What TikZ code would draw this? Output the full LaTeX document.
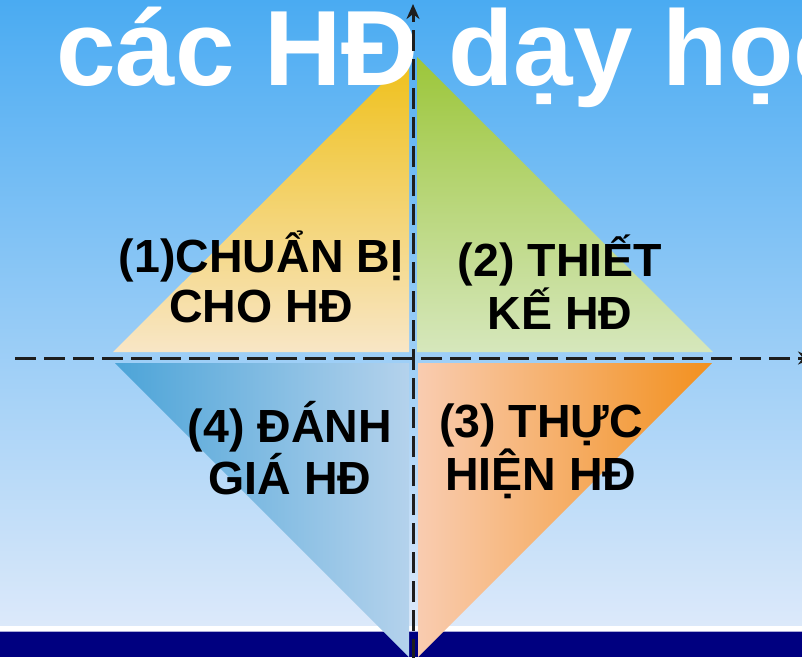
\documentclass[tikz,border=0pt]{standalone}
\usepackage{fontspec}
\setmainfont{Liberation Sans}
\usetikzlibrary{arrows.meta}
\definecolor{bgtop}{RGB}{74,171,242}
\definecolor{bgbot}{RGB}{220,233,250}
\definecolor{navy}{RGB}{0,0,128}
\definecolor{lav}{RGB}{170,170,215}
\definecolor{tlA}{RGB}{239,192,24}
\definecolor{tlB}{RGB}{248,230,198}
\definecolor{trA}{RGB}{156,198,58}
\definecolor{trB}{RGB}{214,231,188}
\definecolor{brA}{RGB}{249,204,176}
\definecolor{brB}{RGB}{242,144,30}
\definecolor{blA}{RGB}{76,164,216}
\definecolor{blB}{RGB}{180,210,236}
\definecolor{axisc}{RGB}{30,30,30}
\tikzset{
  axisline/.style={draw=axisc, line width=3pt, dash pattern=on 21pt off 8pt,
    -{Stealth[length=15pt,width=13pt]}},
  lbl/.style={inner sep=0pt, align=center, anchor=base, text=black,
    font=\fontsize{46.5}{50}\selectfont\bfseries},
  titletext/.style={inner sep=0pt, anchor=base west, text=white,
    font=\fontsize{107}{110}\selectfont\bfseries}
}
\begin{document}
\begin{tikzpicture}[x=1pt,y=-1pt]
\clip (0,0) rectangle (802,657);
% background
\shade[top color=bgtop, bottom color=bgbot] (0,0) rectangle (802,626);
\fill[white] (0,626) rectangle (802,631);
\fill[lav] (0,631) rectangle (802,632);
\fill[navy] (0,632) rectangle (802,657);
% quadrants
\shade[top color=tlA, bottom color=tlB] (113,352) -- (409,57) -- (409,352) -- cycle;
\shade[top color=trA, bottom color=trB] (417,57) -- (713,352) -- (417,352) -- cycle;
\shade[left color=brA, right color=brB] (418,363) -- (712,363) -- (418,657) -- cycle;
\shade[left color=blA, right color=blB] (115,363) -- (409,363) -- (409,657) -- cycle;
% title
\node[titletext] (title) at (56,85) {các HĐ dạy học};
% axes
\coordinate (xs) at (15,358);
\coordinate (xe) at (813,358);
\coordinate (ys) at (413,660);
\coordinate (ye) at (413,4);
\draw[axisline] (xs) -- (xe);
\draw[axisline] (ys) -- (ye);
% labels (base anchor = baseline of last line)
\node[lbl] (q1) at (261,322) {(1)CHUẨN BỊ\\CHO HĐ};
\node[lbl] (q2) at (560,329) {(2) THIẾT\\KẾ HĐ};
\node[lbl] (q3) at (541,490) {(3) THỰC\\HIỆN HĐ};
\node[lbl] (q4) at (290,494) {(4) ĐÁNH\\GIÁ HĐ};
\end{tikzpicture}
\end{document}
